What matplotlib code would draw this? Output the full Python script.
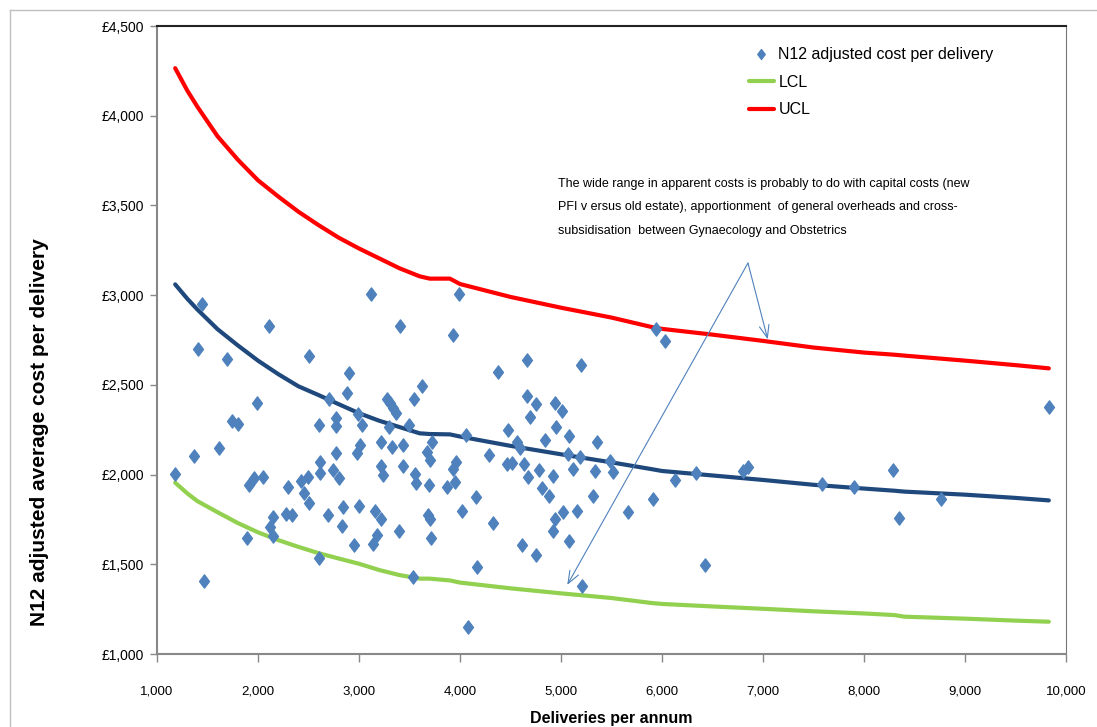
import matplotlib
matplotlib.use("Agg")
import matplotlib.pyplot as plt
import matplotlib.ticker as mticker
from matplotlib.lines import Line2D
from matplotlib.path import Path

# ----------------------------
# Data
# ----------------------------
deliveries = [
    1443, 2109, 1409, 1696, 1993, 1740, 1799, 1614, 1370, 1178, 1914, 1960, 2046, 2300,
    2152, 2274, 2333, 2119, 2152, 1888, 1469,
    3122, 3406, 2502, 2904, 2878, 3620, 3274, 3307, 3340, 3363, 3545, 2706, 2772, 2772,
    2604, 2988, 3030, 3300, 3498, 3215, 3323, 3439, 3010, 2977, 2769, 2614, 2614, 2746,
    2805, 2498, 2423, 2455, 2508, 3215, 3241, 3439, 3554, 3564, 2696, 2845, 3003, 3158,
    3215, 2828, 3181, 3135, 2950, 3399, 2607, 3538,
    3993, 3927, 4660, 4380, 4667, 4749, 4941, 4693, 4950, 4478, 4059, 3725, 4567, 4594,
    4845, 4287, 3670, 3703, 3960, 3927, 4468, 4512, 4634, 4670, 4782, 4917, 3696, 3868,
    3950, 4815, 4881, 4155, 3687, 3703, 4016, 4323, 4941, 4924, 3710, 4617, 4752, 4171,
    4083,
    5937, 6026, 5198, 5007, 5079, 5353, 5073, 5188, 5485, 5116, 5340, 5512, 5314, 6129,
    5914, 5162, 5023, 5660, 5082, 5205,
    9832, 6333, 6805, 6855, 7581, 7901, 8284, 8347, 8762, 6426,
]
cost = [
    2951, 2828, 2700, 2644, 2397, 2298, 2282, 2146, 2105, 2003, 1942, 1979, 1988, 1932,
    1765, 1780, 1775, 1706, 1658, 1648, 1409,
    3005, 2828, 2661, 2564, 2456, 2494, 2419, 2397, 2369, 2345, 2419, 2419, 2313, 2271,
    2276, 2338, 2276, 2267, 2276, 2184, 2156, 2165, 2165, 2119, 2119, 2072, 2007, 2023,
    1983, 1985, 1966, 1895, 1843, 2045, 1998, 2050, 2003, 1955, 1775, 1821, 1825, 1799,
    1751, 1712, 1663, 1611, 1607, 1687, 1533, 1431,
    3005, 2778, 2638, 2573, 2438, 2392, 2397, 2319, 2267, 2248, 2220, 2184, 2181, 2147,
    2193, 2109, 2128, 2081, 2072, 2031, 2058, 2067, 2058, 1988, 2023, 1993, 1942, 1932,
    1961, 1924, 1881, 1877, 1775, 1751, 1797, 1728, 1751, 1683, 1645, 1607, 1550, 1487,
    1149,
    2810, 2746, 2611, 2354, 2215, 2179, 2115, 2100, 2078, 2033, 2020, 2014, 1883, 1970,
    1864, 1799, 1794, 1794, 1630, 1381,
    2375, 2007, 2020, 2041, 1946, 1929, 2024, 1760, 1862, 1496,
]

limit_x = [1180, 1300, 1400, 1600, 1800, 2000, 2200, 2400, 2600, 2800, 3000, 3200, 3400,
           3600, 3700, 3900, 4000, 4500, 5000, 5500, 5900, 6000, 6500, 7000, 7500, 8000,
           8300, 8400, 9000, 9500, 9830]
ucl = [4265, 4140, 4050, 3885, 3755, 3640, 3550, 3465, 3390, 3320, 3260, 3205, 3150,
       3105, 3092, 3092, 3062, 2990, 2930, 2875, 2822, 2812, 2780, 2745, 2708, 2680,
       2668, 2663, 2635, 2610, 2592]
mean_cost = [3060, 2980, 2920, 2810, 2720, 2635, 2560, 2492, 2443, 2392, 2342, 2300, 2265,
             2230, 2226, 2224, 2212, 2160, 2113, 2068, 2030, 2020, 1995, 1970, 1943, 1922,
             1910, 1905, 1888, 1870, 1856]
lcl = [1955, 1895, 1852, 1790, 1730, 1678, 1635, 1597, 1562, 1532, 1503, 1468, 1440,
       1420, 1420, 1410, 1398, 1366, 1338, 1312, 1284, 1279, 1265, 1252, 1238, 1226,
       1217, 1208, 1197, 1186, 1180]

note = ("The wide range in apparent costs is probably to do with capital costs (new\n"
        "PFI v ersus old estate), apportionment  of general overheads and cross-\n"
        "subsidisation  between Gynaecology and Obstetrics")

# ----------------------------
# Plot
# ----------------------------
plt.rcParams['font.family'] = ['Liberation Sans', 'DejaVu Sans']

fig = plt.figure(figsize=(10.97, 7.27), dpi=100)
ax = fig.add_axes([157 / 1097, 1 - 654 / 727, 909 / 1097, 628 / 727])

diamond = Path([(0, 1), (0.75, 0), (0, -1), (-0.75, 0), (0, 1)],
               [Path.MOVETO, Path.LINETO, Path.LINETO, Path.LINETO, Path.CLOSEPOLY])

ax.plot(limit_x, lcl, color="#92D050", lw=3, solid_capstyle="round", label="LCL", zorder=2)
ax.plot(limit_x, ucl, color="#FF0000", lw=3, solid_capstyle="round", label="UCL", zorder=2)
ax.plot(limit_x, mean_cost, color="#1F497D", lw=3, solid_capstyle="round", zorder=2)
ax.plot(deliveries, cost, ls="none", marker=diamond, ms=9.5, color="#4F81BD",
        mec="#4F81BD", label="N12 adjusted cost per delivery", zorder=3)

ax.set_xlim(1000, 10000)
ax.set_ylim(1000, 4500)
ax.xaxis.set_major_locator(mticker.MultipleLocator(1000))
ax.yaxis.set_major_locator(mticker.MultipleLocator(500))
ax.xaxis.set_major_formatter(mticker.FuncFormatter(lambda v, _: f"{v:,.0f}"))
ax.yaxis.set_major_formatter(mticker.FuncFormatter(lambda v, _: f"£{v:,.0f}"))
ax.tick_params(axis="x", direction="out", length=6, width=1, color="#888888",
               pad=17, labelsize=9.5)
ax.tick_params(axis="y", direction="out", length=5, width=1, color="#888888",
               pad=4, labelsize=10)

for side in ["left", "bottom"]:
    ax.spines[side].set_color("#888888")
    ax.spines[side].set_linewidth(1.5)
ax.spines["right"].set_color("#777777")
ax.spines["top"].set_color("#222222")
ax.spines["top"].set_linewidth(1.5)

ax.set_xlabel("Deliveries per annum", fontsize=11.5, fontweight="bold")
ax.xaxis.set_label_coords(0.5, -0.09)
fig.text(40 / 1097, 1 - 432 / 727, "N12 adjusted average cost per delivery",
         rotation=90, ha="center", va="center", fontsize=15, fontweight="bold")

# legend, handles in same order as the original chart
h, l = ax.get_legend_handles_labels()
order = [2, 0, 1]
leg = ax.legend([h[i] for i in order], [l[i] for i in order], loc="upper left",
                bbox_to_anchor=(0.651, 0.966), frameon=False, fontsize=11.5,
                handlelength=1.55, handletextpad=0.3, labelspacing=0.78,
                borderpad=0, borderaxespad=0, markerscale=0.75)

# note and arrows
ax.text(4970, 3655, note, fontsize=9, va="top", ha="left", linespacing=2.3)
start = (6851, 3179)
for tip in [(7047, 2754), (5062, 1385)]:
    ax.annotate("", xy=tip, xytext=start,
                arrowprops=dict(arrowstyle="->,head_length=0.9,head_width=0.35",
                                color="#4F81BD", lw=0.8, shrinkA=0, shrinkB=0))

# outer chart frame
fig.add_artist(Line2D([10 / 1097, 1], [1 - 10 / 727] * 2, transform=fig.transFigure,
                      color="#BFBFBF", lw=1))
fig.add_artist(Line2D([10 / 1097] * 2, [0, 1 - 10 / 727], transform=fig.transFigure,
                      color="#BFBFBF", lw=1))

fig.savefig("out.png", dpi=100)
